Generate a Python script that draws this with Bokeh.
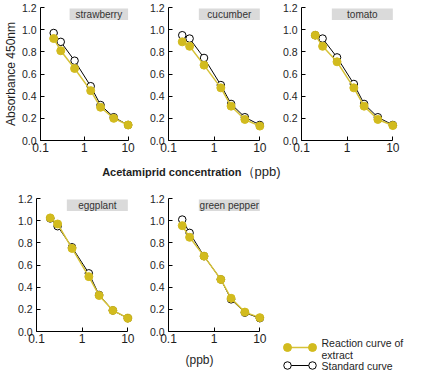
import math
from bokeh.plotting import figure
from bokeh.layouts import row, column
from bokeh.models import (Range1d, FixedTicker, BoxAnnotation, Label,
                          ColumnDataSource)
from bokeh.embed import file_html
from bokeh.resources import INLINE

# ---------------- data ----------------
concentration = [0.2, 0.29, 0.6, 1.4, 2.35, 4.7, 10]

strawberry_standard = [0.97, 0.89, 0.72, 0.49, 0.32, 0.21, 0.14]
strawberry_extract = [0.92, 0.81, 0.65, 0.45, 0.30, 0.20, 0.14]
cucumber_standard = [0.95, 0.92, 0.745, 0.50, 0.33, 0.21, 0.14]
cucumber_extract = [0.89, 0.85, 0.68, 0.475, 0.31, 0.19, 0.13]
tomato_standard = [0.95, 0.92, 0.75, 0.51, 0.33, 0.21, 0.14]
tomato_extract = [0.95, 0.85, 0.71, 0.475, 0.31, 0.19, 0.135]
eggplant_standard = [1.02, 0.95, 0.76, 0.525, 0.33, 0.19, 0.12]
eggplant_extract = [1.025, 0.97, 0.75, 0.495, 0.325, 0.19, 0.12]
green_pepper_standard = [1.01, 0.89, 0.68, 0.47, 0.29, 0.17, 0.12]
green_pepper_extract = [0.955, 0.85, 0.68, 0.47, 0.30, 0.175, 0.125]

x_ticks = [0.1, 1, 10]
x_tick_labels = ["0.1", "1", "10"]
y_ticks = [0.0, 0.2, 0.4, 0.6, 0.8, 1.0, 1.2]
y_tick_labels = ["0.0", "0.2", "0.4", "0.6", "0.8", "1.0", "1.2"]

y_axis_title = "Absorbance 450nm"
x_axis_title = "Acetamiprid concentration"
unit_top = "（ppb)"
unit_bottom = "(ppb)"
legend_extract = "Reaction curve of\nextract"
legend_standard = "Standard curve"

# ---------------- style ----------------
X_MIN, X_MAX, X_END = 0.1, 10, 14.0
Y_MAX = 1.2
FRAME_W, FRAME_H = 98, 133
BOTTOM = 16
FONT = "Liberation Sans"
TEXT = "#1e1e1e"
YELLOW = "#d2bb1e"
YELLOW_LINE = "#d6c238"
BOX_GRAY = "#dadada"
DECADES = math.log10(X_END / X_MIN)


def x_at_px(px):
    return X_MIN * 10 ** (px / FRAME_W * DECADES)


def y_at_px(px_from_top):
    return Y_MAX - px_from_top * Y_MAX / FRAME_H


def blank_figure(w, h):
    f = figure(width=w, height=h, x_range=Range1d(0, w), y_range=Range1d(0, h),
               x_axis_location=None, y_axis_location=None,
               output_backend="svg", toolbar_location=None, min_border=0)
    f.outline_line_color = None
    f.grid.visible = False
    return f


def make_panel(name, std, ext, left, right, top, ylabel=None):
    p = figure(width=left + FRAME_W + right, height=top + FRAME_H + BOTTOM,
               x_axis_type="log", x_range=Range1d(X_MIN, X_END),
               y_range=Range1d(0, Y_MAX), output_backend="svg",
               toolbar_location=None, min_border_left=left,
               min_border_right=right, min_border_top=top,
               min_border_bottom=BOTTOM)
    p.outline_line_color = None
    p.grid.visible = False

    p.xaxis.bounds = (X_MIN, X_MAX)
    p.xaxis.ticker = FixedTicker(ticks=x_ticks)
    p.xaxis.major_label_overrides = dict(zip(x_ticks, x_tick_labels))
    p.xaxis.major_label_text_font_size = "12px"
    p.xaxis.major_label_standoff = 2
    p.yaxis.ticker = FixedTicker(ticks=y_ticks)
    p.yaxis.major_label_overrides = dict(zip(y_ticks, y_tick_labels))
    p.yaxis.major_label_text_font_size = "10.5px"
    p.yaxis.major_label_standoff = 4
    for ax in (p.xaxis, p.yaxis):
        ax.major_tick_in = 4
        ax.major_tick_out = 0
        ax.minor_tick_line_color = None
        ax.axis_line_color = "black"
        ax.major_tick_line_color = "black"
        ax.major_label_text_font = FONT
        ax.major_label_text_color = TEXT
    if ylabel:
        p.yaxis.axis_label = ylabel
        p.yaxis.axis_label_text_font = FONT
        p.yaxis.axis_label_text_font_size = "12px"
        p.yaxis.axis_label_text_font_style = "normal"
        p.yaxis.axis_label_text_color = TEXT
        p.yaxis.axis_label_standoff = 1

    # sample name box (top-right of the frame)
    box_right_px = FRAME_W * math.log10(X_MAX / X_MIN) / DECADES
    box_left_px = box_right_px - 61
    p.add_layout(BoxAnnotation(left=x_at_px(box_left_px), right=X_MAX,
                               top=y_at_px(1), bottom=y_at_px(12.5),
                               fill_color=BOX_GRAY, fill_alpha=1,
                               line_color=None, level="underlay"))
    p.add_layout(Label(x=x_at_px((box_left_px + box_right_px) / 2),
                       y=y_at_px(6.75), text=name, text_align="center",
                       text_baseline="middle", text_font=FONT,
                       text_font_size="10px", text_color="#333333"))

    src = ColumnDataSource(dict(x=concentration, std=std, ext=ext))
    p.line("x", "std", source=src, line_color="black", line_width=1)
    p.scatter("x", "std", source=src, size=7.5, fill_color="white",
              line_color="black", line_width=1)
    p.line("x", "ext", source=src, line_color=YELLOW_LINE, line_width=1.5)
    p.scatter("x", "ext", source=src, size=8, fill_color=YELLOW,
              line_color=YELLOW, line_width=1)
    return p


TOP_ROW, TOP_BOTTOM_ROW = 7, 6
p1 = make_panel("strawberry", strawberry_standard, strawberry_extract,
                36, 8, TOP_ROW, ylabel=y_axis_title)
p2 = make_panel("cucumber", cucumber_standard, cucumber_extract, 26, 9, TOP_ROW)
p3 = make_panel("tomato", tomato_standard, tomato_extract, 26, 6, TOP_ROW)
p4 = make_panel("eggplant", eggplant_standard, eggplant_extract, 36, 8,
                TOP_BOTTOM_ROW)
p5 = make_panel("green pepper", green_pepper_standard, green_pepper_extract,
                26, 9, TOP_BOTTOM_ROW)

# strip carrying the shared x-axis title of the top row
STRIP_H = 36
strip = blank_figure(405, STRIP_H)
strip.add_layout(Label(x=241, y=STRIP_H - 15, text=x_axis_title,
                       text_align="right", text_baseline="middle",
                       text_font=FONT, text_font_size="11px",
                       text_font_style="bold", text_color=TEXT))
strip.add_layout(Label(x=241, y=STRIP_H - 15, text=unit_top,
                       text_align="left", text_baseline="middle",
                       text_font=FONT, text_font_size="13px",
                       text_color=TEXT))

# strip carrying the unit under the bottom row
STRIP2_H = 25
strip2 = blank_figure(275, STRIP2_H)
strip2.add_layout(Label(x=199, y=13, text=unit_bottom, text_align="center",
                        text_baseline="middle", text_font=FONT,
                        text_font_size="12px", text_color=TEXT))

# legend panel (keys drawn with a marker at both ends, as in the original)
LEG_H = TOP_BOTTOM_ROW + FRAME_H + BOTTOM + STRIP2_H
pl = blank_figure(130, LEG_H)
key_x = [12, 37]
pl.line(key_x, [25, 25], line_color=YELLOW_LINE, line_width=1.5)
pl.scatter(key_x, [25, 25], size=8, fill_color=YELLOW, line_color=YELLOW)
pl.line(key_x, [7, 7], line_color="black", line_width=1)
pl.scatter(key_x, [7, 7], size=7.5, fill_color="white", line_color="black")
pl.add_layout(Label(x=46, y=36, text=legend_extract, text_align="left",
                    text_baseline="top", text_font=FONT,
                    text_font_size="10.5px", text_line_height=1.0,
                    text_color=TEXT))
pl.add_layout(Label(x=46, y=7, text=legend_standard, text_align="left",
                    text_baseline="middle", text_font=FONT,
                    text_font_size="10.5px", text_color=TEXT))

layout = column(row(p1, p2, p3), strip,
                row(column(row(p4, p5), strip2), pl))

with open("out.html", "w") as f:
    f.write(file_html(layout, INLINE))
